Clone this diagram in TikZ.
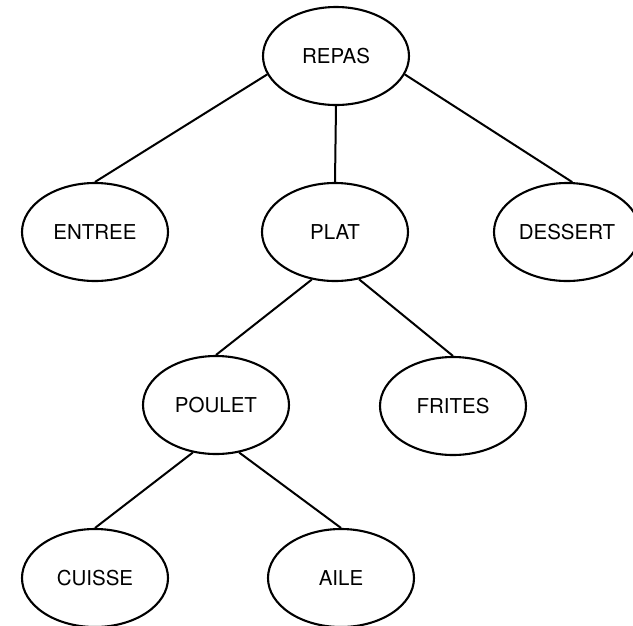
\documentclass[tikz,border=0pt]{standalone}
\usepackage{fontspec}
\setmainfont{TeX Gyre Heros}
\usetikzlibrary{shapes.geometric}
\begin{document}
\begin{tikzpicture}[x=1pt,y=-1pt,
  concept/.style={ellipse,draw,line width=2.1pt,minimum width=146pt,
    minimum height=98pt,inner sep=0pt,font=\fontsize{20.5}{24}\selectfont},
  link/.style={line width=2pt}]
\useasboundingbox (0,0) rectangle (633,625);
\clip (0,0) rectangle (633,625);

% tree of the meal
\node[concept] (repas)   at (336,56)  {REPAS};
\node[concept] (entree)  at (95,232)  {ENTREE};
\node[concept] (plat)    at (335,232) {PLAT};
\node[concept] (dessert) at (567,232) {DESSERT};
\node[concept] (poulet)  at (216,405) {POULET};
\node[concept] (frites)  at (453,406) {FRITES};
\node[concept] (cuisse)  at (95,578)  {CUISSE};
\node[concept] (aile)    at (341,578) {AILE};

% branches
\draw[link] (repas.195) -- (entree.north);
\draw[link] (repas.south) -- (plat.north);
\draw[link] (repas.345) -- (dessert.84);
\draw[link] (plat.244) -- (poulet.north);
\draw[link] (plat.297) -- (frites.north);
\draw[link] (poulet.244) -- (cuisse.north);
\draw[link] (poulet.296) -- (aile.north);
\end{tikzpicture}
\end{document}
